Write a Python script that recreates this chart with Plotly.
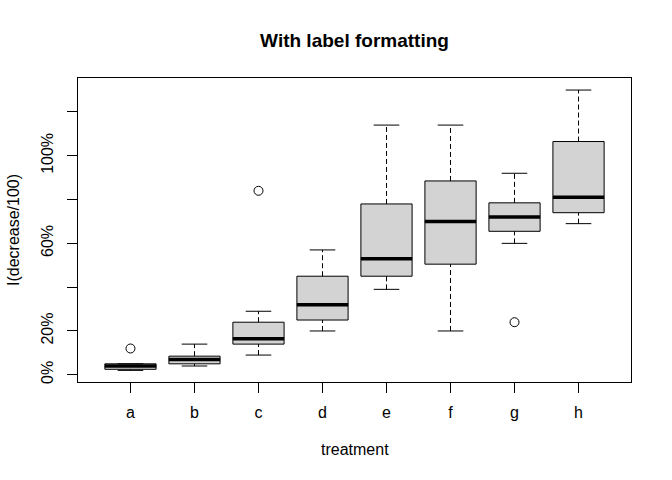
import plotly.graph_objects as go

# five-number summaries (decrease / 100)
treatments = ["a", "b", "c", "d", "e", "f", "g", "h"]
lower_whisker = [0.02, 0.04, 0.09, 0.20, 0.39, 0.20, 0.60, 0.69]
q1 = [0.025, 0.05, 0.14, 0.25, 0.45, 0.505, 0.655, 0.74]
medians = [0.04, 0.07, 0.165, 0.32, 0.53, 0.70, 0.72, 0.81]
q3 = [0.05, 0.085, 0.24, 0.45, 0.78, 0.885, 0.785, 1.065]
upper_whisker = [0.05, 0.14, 0.29, 0.57, 1.14, 1.14, 0.92, 1.30]

outlier_groups = ["a", "c", "g"]
outlier_values = [0.12, 0.84, 0.24]

y_ticks = [0, 0.2, 0.4, 0.6, 0.8, 1.0, 1.2]
y_ticklabels = ["0%", "20%", "", "60%", "", "100%", ""]

FONT = "Liberation Sans, Arial, sans-serif"
BOXWEX = 0.8
STAPLE = 0.2

pos = list(range(len(treatments)))
idx = {t: i for i, t in enumerate(treatments)}

fig = go.Figure()

# dashed whiskers (R lty=2), drawn under the boxes
wx, wy = [], []
for p, lo, a, b, hi in zip(pos, lower_whisker, q1, q3, upper_whisker):
    wx += [p, p, None, p, p, None]
    wy += [lo, a, None, b, hi, None]
fig.add_trace(go.Scatter(x=wx, y=wy, mode="lines", hoverinfo="skip",
                         line=dict(color="black", width=1, dash="5px,3px")))

# whisker staples
sx, sy = [], []
for p, lo, hi in zip(pos, lower_whisker, upper_whisker):
    sx += [p - STAPLE, p + STAPLE, None, p - STAPLE, p + STAPLE, None]
    sy += [lo, lo, None, hi, hi, None]
fig.add_trace(go.Scatter(x=sx, y=sy, mode="lines", hoverinfo="skip",
                         line=dict(color="black", width=1)))

# boxes
fig.add_trace(go.Box(x=pos, q1=q1, median=medians, q3=q3,
                     lowerfence=q1, upperfence=q3,
                     width=BOXWEX, whiskerwidth=0,
                     fillcolor="#D3D3D3", line=dict(color="black", width=1),
                     boxpoints=False))

# thick median bars
mx, my = [], []
for p, m in zip(pos, medians):
    mx += [p - BOXWEX / 2, p + BOXWEX / 2, None]
    my += [m, m, None]
fig.add_trace(go.Scatter(x=mx, y=my, mode="lines", hoverinfo="skip",
                         line=dict(color="black", width=3.5)))

# outliers
fig.add_trace(go.Scatter(x=[idx[g] for g in outlier_groups], y=outlier_values,
                         mode="markers",
                         marker=dict(symbol="circle-open", size=9, color="black",
                                     line=dict(width=1))))

fig.update_layout(
    width=672, height=480,
    margin=dict(l=78, r=41, t=78, b=98),
    paper_bgcolor="white", plot_bgcolor="white",
    showlegend=False,
    font=dict(family=FONT, size=16, color="black"),
    title=dict(text="<b>With label formatting</b>", x=0.5, xref="paper",
               xanchor="center", y=1 - 40 / 480, yref="container",
               yanchor="middle", font=dict(size=19)),
)
fig.update_xaxes(range=[-0.82, 7.82], tickvals=pos, ticktext=treatments,
                 showgrid=False, zeroline=False, showline=True, mirror=True,
                 linecolor="black", linewidth=1, ticks="outside", ticklen=10,
                 tickcolor="black", ticklabelstandoff=6)
fig.update_yaxes(range=[-0.033, 1.355], tickvals=y_ticks, ticktext=y_ticklabels,
                 tickangle=-90, showgrid=False, zeroline=False, showline=True,
                 mirror=True, linecolor="black", linewidth=1, ticks="outside",
                 ticklen=10, tickcolor="black", ticklabelstandoff=8)

fig.add_annotation(text="treatment", xref="paper", yref="paper", x=0.5, y=-0.2204,
                   xanchor="center", yanchor="middle", showarrow=False)
fig.add_annotation(text="I(decrease/100)", xref="paper", yref="paper", x=-0.1175,
                   y=0.5, textangle=-90, xanchor="center", yanchor="middle",
                   showarrow=False)

# drop the browser's default 8px body margin so the figure sits at 0,0
fig.write_html("out.html", config={"displayModeBar": False},
               post_script="document.body.style.margin='0';")
